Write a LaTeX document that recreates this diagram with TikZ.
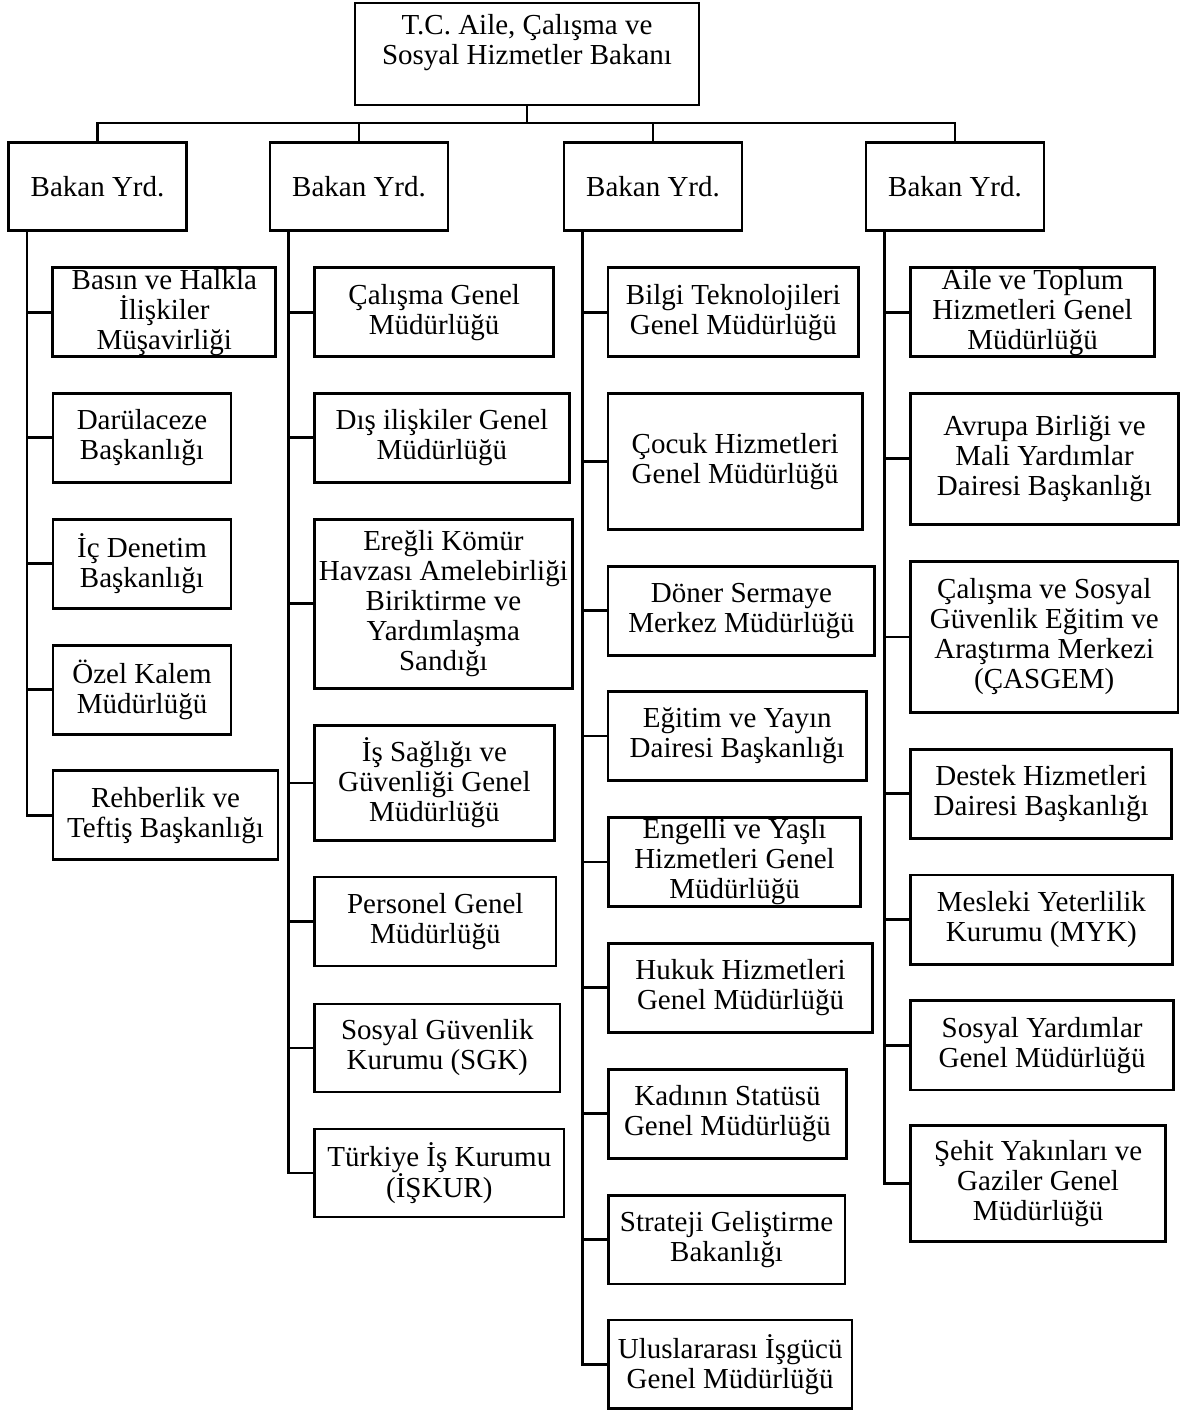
\documentclass[tikz,border=0pt]{standalone}
\usepackage{fontspec}
\setmainfont{Liberation Serif}
\usetikzlibrary{positioning}

\tikzset{
  unit/.style={draw, line width=2.8pt, inner sep=0pt, outer sep=0pt, align=center,
    font=\fontsize{29}{30}\selectfont},
  deputy/.style={unit, minimum width=178, minimum height=88},
  link/.style={line width=2.8pt}
}

\begin{document}
\begin{tikzpicture}[x=1pt,y=-1pt]
\useasboundingbox (0,0) rectangle (1180,1410);

% Minister
\node[unit, minimum width=344, minimum height=102] (top) at (527,54)
  {\raisebox{-5pt}[\height][\depth]{\begin{tabular}{@{}c@{}}T.C. Aile, Çalışma ve\\Sosyal Hizmetler Bakanı\\ \mbox{}\end{tabular}}};

% Deputy ministers
\node[deputy] (b1) at (97.5,186.5) {Bakan Yrd.};
\node[deputy] (b2) at (359,186.5) {Bakan Yrd.};
\node[deputy] (b3) at (653,186.5) {Bakan Yrd.};
\node[deputy] (b4) at (955,186.5) {Bakan Yrd.};

% Column 1
\node[unit, minimum width=223, minimum height=89] (c1a) at (164.3,312.2) {Basın ve Halkla\\İlişkiler\\Müşavirliği};
\node[unit, minimum width=178, minimum height=89] (c1b) at (142,437.8) {Darülaceze\\Başkanlığı};
\node[unit, minimum width=178, minimum height=89] (c1c) at (142,563.8) {İç Denetim\\Başkanlığı};
\node[unit, minimum width=178, minimum height=89] (c1d) at (142,689.7) {Özel Kalem\\Müdürlüğü};
\node[unit, minimum width=225, minimum height=89] (c1e) at (165.5,815.3) {Rehberlik ve\\Teftiş Başkanlığı};

% Column 2
\node[unit, minimum width=239, minimum height=89] (c2a) at (434.2,312.3) {Çalışma Genel\\Müdürlüğü};
\node[unit, minimum width=254.5, minimum height=89] (c2b) at (441.9,437.8) {Dış ilişkiler Genel\\Müdürlüğü};
\node[unit, minimum width=257.5, minimum height=169] (c2c) at (443.4,603.8) {Ereğli Kömür\\Havzası Amelebirliği\\Biriktirme ve\\Yardımlaşma\\Sandığı};
\node[unit, minimum width=239.6, minimum height=115.4] (c2d) at (434.4,783) {İş Sağlığı ve\\Güvenliği Genel\\Müdürlüğü};
\node[unit, minimum width=241.4, minimum height=89] (c2e) at (435.3,921.5) {Personel Genel\\Müdürlüğü};
\node[unit, minimum width=245.4, minimum height=88] (c2f) at (437.3,1048) {Sosyal Güvenlik\\Kurumu (SGK)};
\node[unit, minimum width=249.4, minimum height=88] (c2g) at (439.3,1173) {Türkiye İş Kurumu\\(İŞKUR)};

% Column 3
\node[unit, minimum width=250.6, minimum height=89] (c3a) at (733.3,312.3) {Bilgi Teknolojileri\\Genel Müdürlüğü};
\node[unit, minimum width=254.4, minimum height=136] (c3b) at (735.2,461.3) {Çocuk Hizmetleri\\Genel Müdürlüğü};
\node[unit, minimum width=266.7, minimum height=89] (c3c) at (741.4,610.7) {Döner Sermaye\\Merkez Müdürlüğü};
\node[unit, minimum width=258.3, minimum height=88.6] (c3d) at (737.2,736) {Eğitim ve Yayın\\Dairesi Başkanlığı};
\node[unit, minimum width=252.5, minimum height=89] (c3e) at (734.5,861.9) {Engelli ve Yaşlı\\Hizmetleri Genel\\Müdürlüğü};
\node[unit, minimum width=264.4, minimum height=89] (c3f) at (740.5,987.8) {Hukuk Hizmetleri\\Genel Müdürlüğü};
\node[unit, minimum width=238.5, minimum height=89] (c3g) at (727.5,1113.8) {Kadının Statüsü\\Genel Müdürlüğü};
\node[unit, minimum width=236.7, minimum height=88.3] (c3h) at (726.6,1239.8) {Strateji Geliştirme\\Bakanlığı};
\node[unit, minimum width=243.7, minimum height=88.7] (c3i) at (730.2,1364.4) {Uluslararası İşgücü\\Genel Müdürlüğü};

% Column 4
\node[unit, minimum width=244.5, minimum height=89] (c4a) at (1032.5,312.3) {Aile ve Toplum\\Hizmetleri Genel\\Müdürlüğü};
\node[unit, minimum width=267.6, minimum height=131] (c4b) at (1044.5,458.8) {Avrupa Birliği ve\\Mali Yardımlar\\Dairesi Başkanlığı};
\node[unit, minimum width=267.3, minimum height=150.6] (c4c) at (1044.3,637) {Çalışma ve Sosyal\\Güvenlik Eğitim ve\\Araştırma Merkezi\\(ÇASGEM)};
\node[unit, minimum width=261, minimum height=89] (c4d) at (1041.2,793.8) {Destek Hizmetleri\\Dairesi Başkanlığı};
\node[unit, minimum width=261.8, minimum height=89.3] (c4e) at (1041.4,919.7) {Mesleki Yeterlilik\\Kurumu (MYK)};
\node[unit, minimum width=263.2, minimum height=89.3] (c4f) at (1042.1,1045.4) {Sosyal Yardımlar\\Genel Müdürlüğü};
\node[unit, minimum width=255.2, minimum height=116] (c4g) at (1038.1,1183.7) {Şehit Yakınları ve\\Gaziler Genel\\Müdürlüğü};

% Minister to deputies
\coordinate (bus) at (527,123);
\draw[link] (top.south) -- (bus);
\foreach \b in {b1,b2,b3,b4}
  \draw[link] (bus) -| (\b.north);

% Deputies to units
\foreach \c in {c1a,c1b,c1c,c1d,c1e}
  \draw[link] ([xshift=18.5pt]b1.south west) |- (\c.west);
\foreach \c in {c2a,c2b,c2c,c2d,c2e,c2f,c2g}
  \draw[link] ([xshift=18.5pt]b2.south west) |- (\c.west);
\foreach \c in {c3a,c3b,c3c,c3d,c3e,c3f,c3g,c3h,c3i}
  \draw[link] ([xshift=18.5pt]b3.south west) |- (\c.west);
\foreach \c in {c4a,c4b,c4c,c4d,c4e,c4f,c4g}
  \draw[link] ([xshift=18.5pt]b4.south west) |- (\c.west);

\end{tikzpicture}
\end{document}
